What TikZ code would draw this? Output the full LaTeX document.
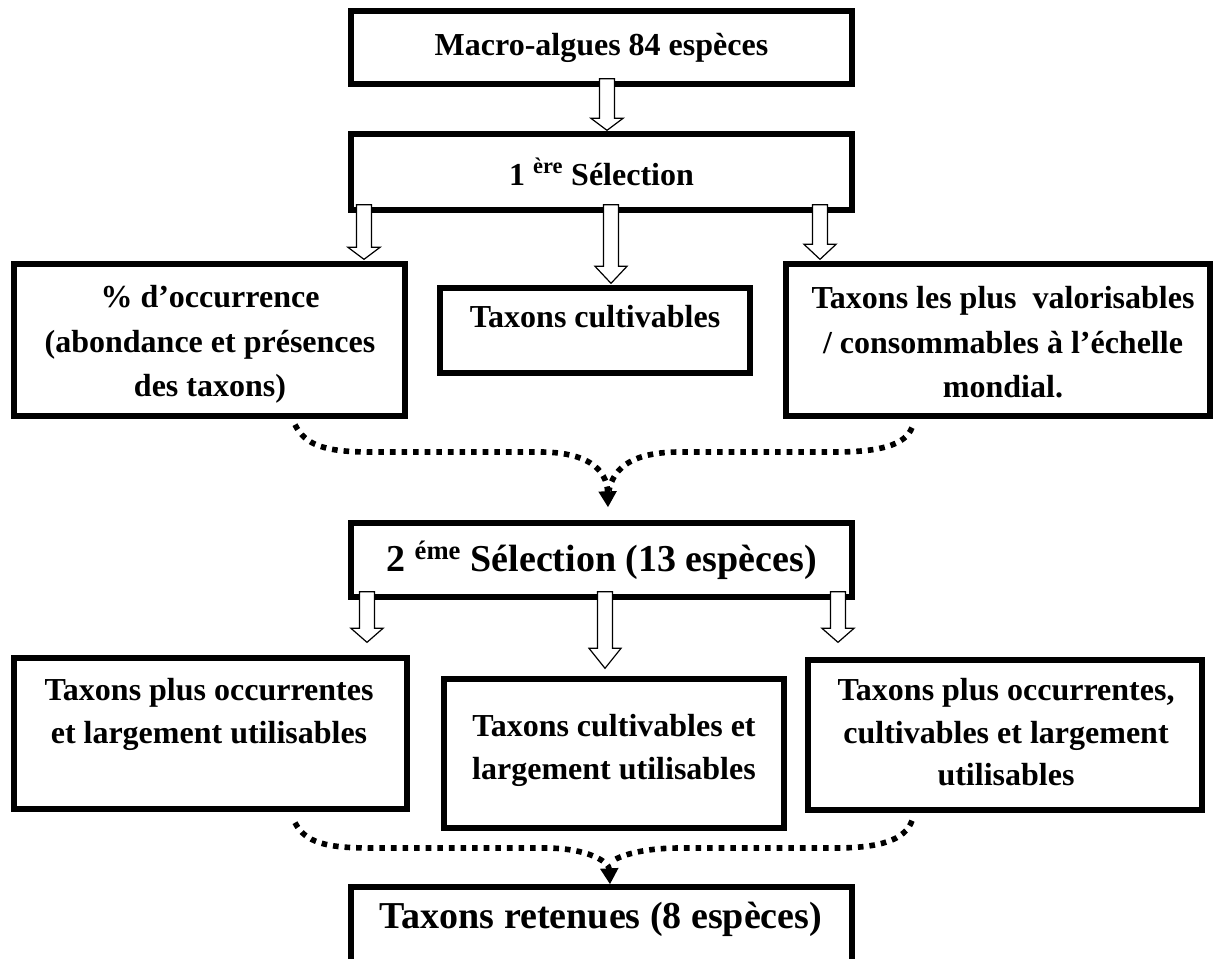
\documentclass[tikz,border=0pt]{standalone}
\usepackage{fontspec}
\setmainfont{Liberation Serif}
\usetikzlibrary{calc,fit,arrows.meta}

\tikzset{
  box/.style={draw, line width=4pt, inner sep=0pt},
  txt/.style={font=\fontsize{24}{33.5}\selectfont\bfseries, align=center, inner sep=0pt},
  txtb/.style={txt, font=\fontsize{24}{32}\selectfont\bfseries},
  bigtxt/.style={font=\fontsize{28.5}{34}\selectfont\bfseries, inner sep=0pt},
  hollow/.style={draw, fill=white, line width=0.9pt, line join=miter},
  dotline/.style={line width=4.2pt, dash pattern=on 4.2pt off 4.5pt}
}

% hollow block arrow: x, from node, to node, gap, head length
\newcommand{\hollowarrow}[5]{%
  \draw[hollow] ($(#1,0 |- #2.south)+(-7.5,-8)$) -- ($(#1,0 |- #3.north)+(-7.5,-#4-#5)$)
    -- ($(#1,0 |- #3.north)+(-16,-#4-#5)$) -- ($(#1,0 |- #3.north)+(0,-#4)$)
    -- ($(#1,0 |- #3.north)+(16,-#4-#5)$) -- ($(#1,0 |- #3.north)+(7.5,-#4-#5)$)
    -- ($(#1,0 |- #2.south)+(7.5,-8)$) -- cycle;}

\begin{document}
\begin{tikzpicture}[x=0.75pt, y=-0.75pt]
  \useasboundingbox (0,0) rectangle (1224,959);
  \clip (0,0) rectangle (1224,959);

  % boxes
  \node[box, fit={(351,11) (852,84)}] (top1) {};
  \node[box, fit={(351,134) (852,210)}] (sel1) {};
  \node[box, fit={(14,264) (405,416)}] (occ) {};
  \node[box, fit={(440,288) (750,373)}] (cult) {};
  \node[box, fit={(786,264) (1210,416)}] (valo) {};
  \node[box, fit={(351,523) (852,597)}] (sel2) {};
  \node[box, fit={(14,658) (407,809)}] (occ2) {};
  \node[box, fit={(444,679) (784,828)}] (cult2) {};
  \node[box, fit={(808,660) (1202,810)}] (valo2) {};
  \node[box, fit={(351,887) (852,968)}] (final) {};

  % texts
  \node[txt] (top1t) at (top1) {Macro-algues 84 espèces};
  \node[txt] (sel1t) at (sel1) {1 \textsuperscript{ère} Sélection};
  \node[txt, anchor=north] (occt) at (210,285) {\% d’occurrence\\(abondance et présences\\des taxons)};
  \node[txt, anchor=base] (cultt) at (595,327) {Taxons cultivables};
  \node[txt, anchor=north] (valot) at (1003,286) {Taxons les plus~ valorisables\\/ consommables à l’échelle\\mondial.};
  \node[bigtxt] (sel2t) at (sel2) {2 \textsuperscript{éme} Sélection (13 espèces)};
  \node[txtb, anchor=north] (occ2t) at (209,678) {Taxons plus occurrentes\\et largement utilisables};
  \node[txtb, anchor=north] (cult2t) at (614,714) {Taxons cultivables et\\largement utilisables};
  \node[txtb, anchor=north] (valo2t) at (1006,678) {Taxons plus occurrentes,\\cultivables et largement\\utilisables};
  \node[bigtxt, anchor=base] (finalt) at (601,928) {Taxons retenues (8 espèces)};

  % hollow arrows
  \hollowarrow{607}{top1}{sel1}{1}{12}
  \hollowarrow{364}{sel1}{occ}{2}{12}
  \hollowarrow{611}{sel1}{cult}{2}{17}
  \hollowarrow{820}{sel1}{valo}{2}{15}
  \hollowarrow{367}{sel2}{occ2}{13}{14}
  \hollowarrow{605}{sel2}{cult2}{8}{20}
  \hollowarrow{838}{sel2}{valo2}{15}{14}

  % dotted merging curves
  \draw[dotline, -{Triangle[width=13pt, length=12pt]}] ($(295,0 |- occ.south)+(0,6)$)
    .. controls (305,445) and (325,452) .. (370,452) -- (540,452)
    .. controls (585,452) and (607,468) .. ($(608,0 |- sel2.north)+(0,-13)$);
  \draw[dotline] ($(912,0 |- valo.south)+(0,9)$)
    .. controls (905,445) and (880,452) .. (835,452) -- (680,452)
    .. controls (635,452) and (614,466) .. ($(609,0 |- sel2.north)+(0,-30)$);
  \draw[dotline, -{Triangle[width=13pt, length=12pt]}] ($(295,0 |- occ2.south)+(0,11)$)
    .. controls (305,842) and (325,848) .. (370,848) -- (545,848)
    .. controls (588,848) and (609,862) .. (610,0 |- final.north);
  \draw[dotline] ($(912,0 |- valo2.south)+(0,8)$)
    .. controls (905,840) and (880,848) .. (835,848) -- (680,848)
    .. controls (637,848) and (615,858) .. ($(611,0 |- final.north)+(0,-22)$);
\end{tikzpicture}
\end{document}
